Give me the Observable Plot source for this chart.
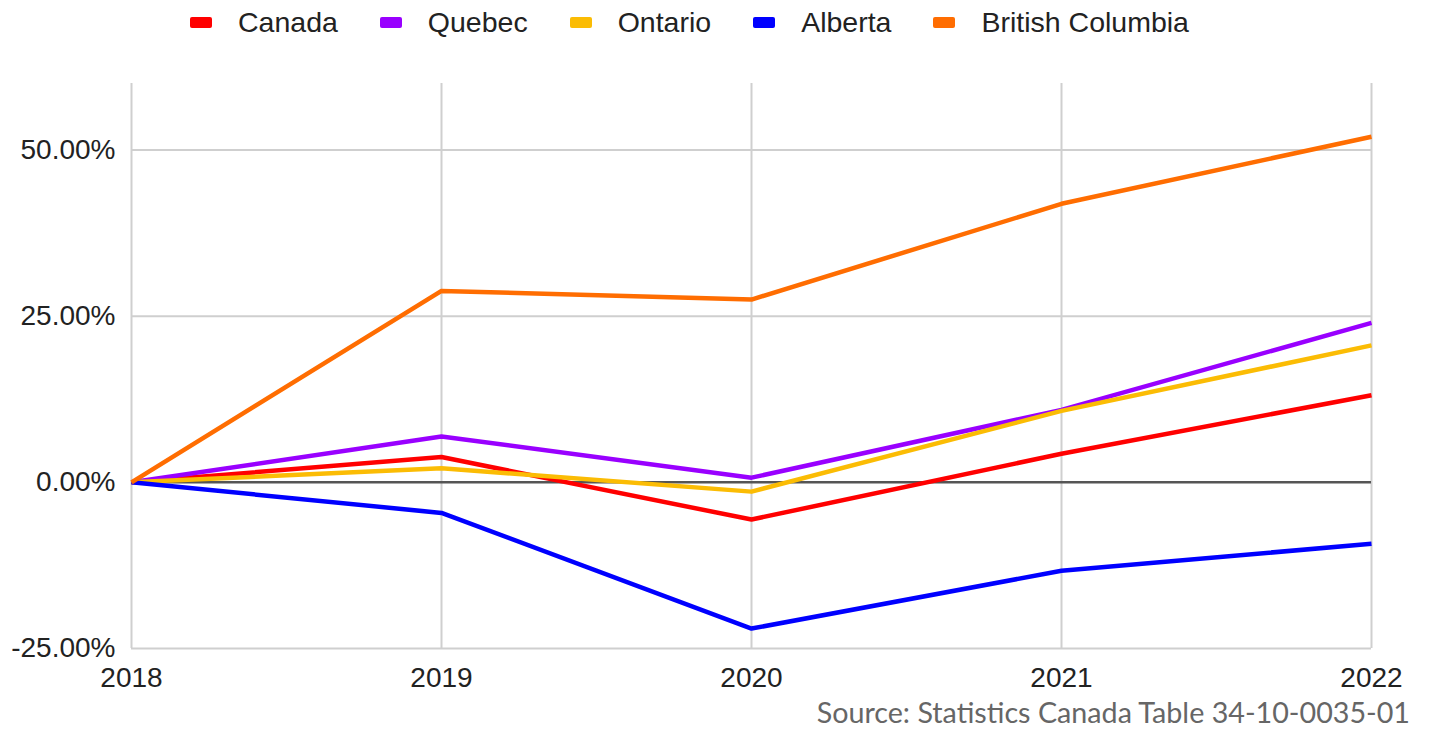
<!DOCTYPE html>
<html>
<head>
<meta charset="utf-8">
<script src="https://cdn.jsdelivr.net/npm/d3@7"></script>
<script src="https://cdn.jsdelivr.net/npm/@observablehq/plot@0.6"></script>
<style>
  html, body { margin: 0; padding: 0; background: #fff; width: 1429px; height: 729px; overflow: hidden; }
  #wrap { position: relative; width: 1429px; height: 729px; }
  #legend { position: absolute; left: 190px; top: 0; height: 44px; display: flex; align-items: center;
    font-family: "Liberation Sans", Arial, sans-serif; font-size: 28.5px; color: #222; }
  .item { display: flex; align-items: center; margin-right: 42px; }
  .sw { width: 22px; height: 11px; border-radius: 2px; margin-right: 26px; }
  #chart { position: absolute; left: 0; top: 50px; }
  #caption { position: absolute; right: 19px; top: 698px; font-family: Lato, "Open Sans", sans-serif; font-size: 28.7px; color: #666; line-height: 1; }
</style>
</head>
<body>
<div id="wrap">
  <div id="legend"></div>
  <div id="chart"></div>
  <div id="caption">Source: Statistics Canada Table 34-10-0035-01</div>
</div>
<script>
const years = [2018, 2019, 2020, 2021, 2022];
const seriesNames = ["Canada", "Quebec", "Ontario", "Alberta", "British Columbia"];
const seriesColors = ["#ff0000", "#9900ff", "#fbbc04", "#0000ff", "#ff6d01"];
const canada = [0, 3.8, -5.6, 4.3, 13.1];
const quebec = [0, 6.9, 0.7, 10.9, 24.0];
const ontario = [0, 2.1, -1.4, 10.75, 20.6];
const alberta = [0, -4.6, -22.0, -13.3, -9.25];
const britishColumbia = [0, 28.8, 27.5, 41.9, 52.0];
const yTicks = [-25, 0, 25, 50];

const allSeries = [canada, quebec, ontario, alberta, britishColumbia];
const data = [];
seriesNames.forEach((name, i) => {
  years.forEach((yr, j) => data.push({ series: name, year: yr, value: allSeries[i][j] }));
});

// Legend
const legend = document.getElementById("legend");
seriesNames.forEach((name, i) => {
  const it = document.createElement("div");
  it.className = "item";
  const sw = document.createElement("div");
  sw.className = "sw";
  sw.style.background = seriesColors[i];
  const tx = document.createElement("span");
  tx.textContent = name;
  it.appendChild(sw); it.appendChild(tx);
  legend.appendChild(it);
});

const chart = Plot.plot({
  width: 1429,
  height: 650,
  marginLeft: 131,
  marginRight: 58,
  marginTop: 33,
  marginBottom: 52,
  style: { fontFamily: '"Liberation Sans", Arial, sans-serif', fontSize: "28px", color: "#222", background: "#fff" },
  x: { domain: [2018, 2022], label: null },
  y: { domain: [-25, 60], label: null },
  color: { domain: seriesNames, range: seriesColors },
  marks: [
    Plot.gridX(years, { stroke: "#cfcfcf", strokeOpacity: 1, strokeWidth: 2 }),
    Plot.gridY([-25, 25, 50], { stroke: "#cfcfcf", strokeOpacity: 1, strokeWidth: 2 }),
    Plot.ruleY([0], { stroke: "#555", strokeWidth: 2.5 }),
    Plot.axisX({ ticks: years, tickFormat: "d", tickSize: 0, tickPadding: 19, fontSize: 28, label: null }),
    Plot.axisY({ ticks: yTicks, tickFormat: d => d.toFixed(2) + "%", tickSize: 0, tickPadding: 16, fontSize: 28, label: null }),
    Plot.line(data, { x: "year", y: "value", z: "series", stroke: "series", strokeWidth: 4.5, strokeLinejoin: "round", strokeLinecap: "butt" })
  ]
});
document.getElementById("chart").appendChild(chart);
</script>
</body>
</html>
